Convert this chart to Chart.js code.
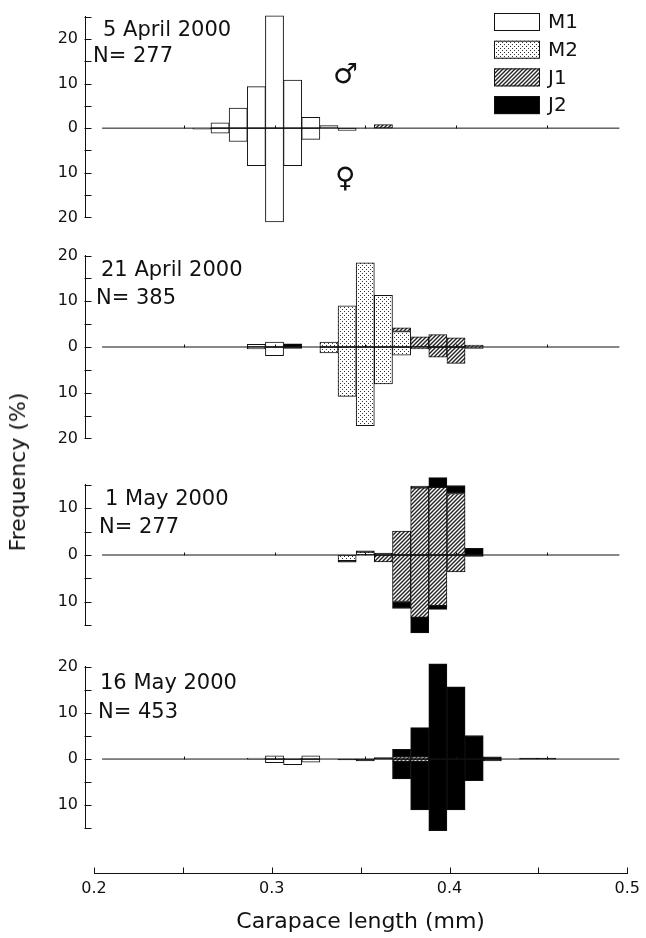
<!DOCTYPE html>
<html>
<head>
<meta charset="utf-8">
<script src="https://cdn.jsdelivr.net/npm/chart.js@4.4.1/dist/chart.umd.min.js"></script>
<style>
html,body{margin:0;padding:0;background:#fff;}
#wrap{position:relative;width:646px;height:938px;overflow:hidden;background:#fff;font-family:'DejaVu Sans',sans-serif;color:#111;}
#wrap canvas{position:absolute;left:0;}
.t{position:absolute;white-space:nowrap;line-height:1;font-size:21px;}
.sym{position:absolute;white-space:nowrap;line-height:1;font-size:28px;font-weight:bold;}
#ylab{position:absolute;left:18px;top:472px;font-size:22px;white-space:nowrap;line-height:1;transform:translate(-50%,-50%) rotate(-90deg);}
</style>
</head>
<body>
<div id="wrap">
  <canvas id="p0" width="646" height="234" style="top:0px"></canvas>
  <canvas id="p1" width="646" height="216" style="top:239px"></canvas>
  <canvas id="p2" width="646" height="174" style="top:468px"></canvas>
  <canvas id="p3" width="646" height="195" style="top:650px"></canvas>
  <canvas id="px" width="646" height="83" style="top:855px"></canvas>
  <div id="ylab">Frequency (%)</div>
</div>
<script>
// ---------------- data ----------------
const bins = [0.26,0.27,0.28,0.29,0.30,0.31,0.32,0.33,0.34,0.35,0.36,0.37,0.38,0.39,0.40,0.41,0.42,0.43,0.44,0.45];
const categories = ['M1','M2','J1','J2'];
const dates = ['5 April 2000','21 April 2000','1 May 2000','16 May 2000'];
const sampleSizes = [277,385,277,453];
const yMin = [-20,-20,-15,-15];
const yMax = [25,20,15,20];
const yStep = 5;
const xTickValues = [0.2,0.25,0.3,0.35,0.4,0.45,0.5];
const xTickLabels = ['0.2','','0.3','','0.4','','0.5'];
const baselineTicks = [0.25,0.3,0.35,0.4,0.45];
const baselineRange = [0.205,0.49];
const xTitle = 'Carapace length (mm)';
const maleSymbol = '\u2642', femaleSymbol = '\u2640';

// 5 April 2000 (male up, female down; %)
const apr5_M1_male   = [0,1.2,4.5,9.3,25.2,10.8,2.4,0.6,0,0,0,0,0,0,0,0,0,0,0,0];
const apr5_M1_female = [0.2,1.1,3.0,8.4,21.0,8.4,2.5,0,0.5,0,0,0,0,0,0,0,0,0,0,0];
const apr5_M2_male   = [0,0,0,0,0,0,0,0,0,0,0,0,0,0,0,0,0,0,0,0];
const apr5_M2_female = [0,0,0,0,0,0,0,0,0,0,0,0,0,0,0,0,0,0,0,0];
const apr5_J1_male   = [0,0,0,0,0,0,0,0,0,0,0.8,0,0,0,0,0,0,0,0,0];
const apr5_J1_female = [0,0,0,0,0,0,0,0,0,0,0,0,0,0,0,0,0,0,0,0];
const apr5_J2_male   = [0,0,0,0,0,0,0,0,0,0,0,0,0,0,0,0,0,0,0,0];
const apr5_J2_female = [0,0,0,0,0,0,0,0,0,0,0,0,0,0,0,0,0,0,0,0];

// 21 April 2000
const apr21_M1_male   = [0,0,0,0.6,1.1,0,0,0,0,0,0,0,0,0,0,0,0,0,0,0];
const apr21_M1_female = [0,0,0,0.4,1.9,0,0,0,0,0,0,0,0,0,0,0,0,0,0,0];
const apr21_M2_male   = [0,0,0,0,0,0,0,1.1,9.0,18.4,11.3,3.4,0,0,0,0,0,0,0,0];
const apr21_M2_female = [0,0,0,0,0,0,0,1.3,10.8,17.2,8.1,1.8,0,0,0,0,0,0,0,0];
const apr21_J1_male   = [0,0,0,0,0,0,0,0,0,0,0,0.8,2.2,2.7,2.0,0.4,0,0,0,0];
const apr21_J1_female = [0,0,0,0,0,0,0,0,0,0,0,0,0.4,2.2,3.6,0.3,0,0,0,0];
const apr21_J2_male   = [0,0,0,0,0,0.7,0,0,0,0,0,0,0,0,0,0,0,0,0,0];
const apr21_J2_female = [0,0,0,0,0,0.3,0,0,0,0,0,0,0,0,0,0,0,0,0,0];

// 1 May 2000
const may1_M1_male   = [0,0,0,0,0,0,0,0,0,0,0,0,0,0,0,0,0,0,0,0];
const may1_M1_female = [0,0,0,0,0,0,0,0,0,0,0,0,0,0,0,0,0,0,0,0];
const may1_M2_male   = [0,0,0,0,0,0,0,0,0,0.6,0,0,0,0,0,0,0,0,0,0];
const may1_M2_female = [0,0,0,0,0,0,0,0,1.2,0,0,0,0,0,0,0,0,0,0,0];
const may1_J1_male   = [0,0,0,0,0,0,0,0,0,0,0,5.1,14.3,14.4,13.1,0,0,0,0,0];
const may1_J1_female = [0,0,0,0,0,0,0,0,0,0,1.5,9.9,13.3,10.8,3.6,0,0,0,0,0];
const may1_J2_male   = [0,0,0,0,0,0,0,0,0,0.3,0.4,0,0.4,2.1,1.7,1.4,0,0,0,0];
const may1_J2_female = [0,0,0,0,0,0,0,0,0.35,0,0,1.5,3.3,0.8,0,0.3,0,0,0,0];

// 16 May 2000
const may16_M1_male   = [0,0,0,0.2,0.7,0.15,0.7,0,0,0,0,0,0,0,0,0,0,0,0,0];
const may16_M1_female = [0,0,0,0,0.8,1.2,0.7,0,0,0,0,0,0,0,0,0,0,0,0,0];
const may16_M2_male   = [0,0,0,0,0,0,0,0,0,0,0,0,0,0,0,0,0,0,0,0];
const may16_M2_female = [0,0,0,0,0,0,0,0,0,0,0,0,0,0,0,0,0,0,0,0];
const may16_J1_male   = [0,0,0,0,0,0,0,0,0,0,0,0.5,0.5,0,0,0,0,0,0,0];
const may16_J1_female = [0,0,0,0,0,0,0,0,0,0,0,0.5,0.5,0,0,0,0,0,0,0];
const may16_J2_male   = [0,0,0,0,0,0,0,0,0,0,0.3,1.6,6.3,20.6,15.6,5.1,0.5,0,0.2,0.2];
const may16_J2_female = [0,0,0,0,0,0,0,0,0.2,0.4,0,3.8,10.5,15.5,11.0,4.7,0.4,0,0,0];

// ---------------- styling ----------------
const FONT = "'DejaVu Sans', sans-serif";
const INK = '#111';

function makePattern(kind){
  const c = document.createElement('canvas');
  c.width = 4; c.height = 4;
  const g = c.getContext('2d');
  g.fillStyle = '#fff'; g.fillRect(0,0,4,4);
  if (kind === 'dots'){
    g.fillStyle = '#333';
    g.fillRect(0,0,1,1); g.fillRect(2,2,1,1);
  } else if (kind === 'hatch'){
    g.strokeStyle = '#222'; g.lineWidth = 1.4;
    g.beginPath();
    g.moveTo(-1,5); g.lineTo(5,-1);
    g.moveTo(-1,1); g.lineTo(1,-1);
    g.moveTo(3,5); g.lineTo(5,3);
    g.stroke();
  }
  return document.createElement('canvas').getContext('2d').createPattern(c,'repeat');
}
const fills = ['#ffffff', makePattern('dots'), makePattern('hatch'), '#000000'];

const panelMale = [
  [apr5_M1_male, apr5_M2_male, apr5_J1_male, apr5_J2_male],
  [apr21_M1_male, apr21_M2_male, apr21_J1_male, apr21_J2_male],
  [may1_M1_male, may1_M2_male, may1_J1_male, may1_J2_male],
  [may16_M1_male, may16_M2_male, may16_J1_male, may16_J2_male]
];
const panelFemale = [
  [apr5_M1_female, apr5_M2_female, apr5_J1_female, apr5_J2_female],
  [apr21_M1_female, apr21_M2_female, apr21_J1_female, apr21_J2_female],
  [may1_M1_female, may1_M2_female, may1_J1_female, may1_J2_female],
  [may16_M1_female, may16_M2_female, may16_J1_female, may16_J2_female]
];

const decor = {
  id: 'decor',
  afterDraw(chart, args, opts){
    const ctx = chart.ctx, ys = chart.scales.y, xs = chart.scales.x;
    const left = Math.round(chart.chartArea.left) + 0.5;
    ctx.save();
    ctx.strokeStyle = INK; ctx.lineWidth = 1;
    ys.ticks.forEach(t => {
      const py = Math.round(ys.getPixelForValue(t.value)) + 0.5;
      ctx.beginPath(); ctx.moveTo(left - 1, py); ctx.lineTo(left + 6, py); ctx.stroke();
    });
    const y0 = Math.round(ys.getPixelForValue(0)) + 0.5;
    baselineTicks.forEach(v => {
      const px = Math.round(xs.getPixelForValue(v)) + 0.5;
      ctx.beginPath(); ctx.moveTo(px, y0); ctx.lineTo(px, y0 - 3); ctx.stroke();
    });
    if (opts && opts.legend){
      ctx.font = '20px ' + FONT;
      ctx.textBaseline = 'middle';
      ctx.textAlign = 'left';
      categories.forEach((c, k) => {
        const by = 13 + k * 27.7;
        ctx.fillStyle = fills[k];
        ctx.fillRect(494, by, 46, 18);
        ctx.strokeStyle = INK;
        ctx.strokeRect(494.5, by + 0.5, 45, 17);
        ctx.fillStyle = INK;
        ctx.fillText(c, 548, by + 10);
      });
    }
    ctx.restore();
  }
};

function buildPanel(p){
  const datasets = [];
  categories.forEach((c, k) => {
    datasets.push({
      type: 'bar', label: c + ' male', stack: 's',
      data: bins.map((b, i) => ({x: b, y: panelMale[p][k][i] ? panelMale[p][k][i] : null})),
      backgroundColor: fills[k], borderColor: INK, borderWidth: 1, borderSkipped: false,
      barPercentage: 1, categoryPercentage: 1, order: 1, clip: false
    });
  });
  categories.forEach((c, k) => {
    datasets.push({
      type: 'bar', label: c + ' female', stack: 's',
      data: bins.map((b, i) => ({x: b, y: panelFemale[p][k][i] ? -panelFemale[p][k][i] : null})),
      backgroundColor: fills[k], borderColor: INK, borderWidth: 1, borderSkipped: false,
      barPercentage: 1, categoryPercentage: 1, order: 1, clip: false
    });
  });
  datasets.push({
    type: 'line', label: 'baseline',
    data: baselineRange.map(x => ({x: x, y: 0})),
    borderColor: INK, borderWidth: 1, pointRadius: 0, order: 0, clip: false
  });
  new Chart(document.getElementById('p' + p), {
    type: 'bar',
    data: {datasets},
    options: {
      responsive: false, animation: false, devicePixelRatio: 1,
      layout: {padding: {top: 13, bottom: 12, left: 0, right: 15}},
      plugins: {legend: {display: false}, tooltip: {enabled: false}, decor: {legend: p === 0}},
      scales: {
        x: {type: 'linear', min: 0.1956, max: 0.4964, display: false, stacked: true, offset: false},
        y: {
          type: 'linear', min: yMin[p], max: yMax[p], stacked: true,
          grid: {display: false, drawTicks: false},
          border: {display: true, color: INK, width: 1},
          ticks: {stepSize: yStep, autoSkip: false, padding: 7, color: INK,
                  font: {family: FONT, size: 16},
                  callback: v => (Math.round(v) % 10 === 0 ? String(Math.abs(Math.round(v))) : '')},
          afterFit: s => { s.width = 85; }
        }
      }
    },
    plugins: [decor]
  });
}
[0,1,2,3].forEach(buildPanel);

// bottom shared axis
const axisTicks = {
  id: 'axisTicks',
  afterDraw(chart){
    const ctx = chart.ctx, xs = chart.scales.x;
    const yb = Math.round(chart.chartArea.bottom) + 0.5;
    ctx.save(); ctx.strokeStyle = INK; ctx.lineWidth = 1;
    xTickValues.forEach(v => {
      const px = Math.round(xs.getPixelForValue(v)) + 0.5;
      ctx.beginPath(); ctx.moveTo(px, yb); ctx.lineTo(px, yb - 6); ctx.stroke();
    });
    ctx.restore();
  }
};
new Chart(document.getElementById('px'), {
  type: 'scatter',
  data: {datasets: []},
  options: {
    responsive: false, animation: false, devicePixelRatio: 1,
    layout: {padding: {top: 2, left: 94, right: 15, bottom: 0}},
    plugins: {legend: {display: false}, tooltip: {enabled: false}},
    scales: {
      x: {
        type: 'linear', min: 0.2, max: 0.5,
        grid: {display: false, drawTicks: false},
        border: {display: true, color: INK, width: 1},
        ticks: {stepSize: 0.05, autoSkip: false, maxRotation: 0, padding: 6, color: INK,
                font: {family: FONT, size: 16},
                callback: v => { const i = xTickValues.findIndex(t => Math.abs(t - v) < 1e-6); return i >= 0 ? xTickLabels[i] : ''; }},
        title: {display: true, text: xTitle, color: INK, font: {family: FONT, size: 22}, padding: {top: 4, bottom: 3}},
        afterFit: s => { s.height = 65; }
      },
      y: {display: false, min: 0, max: 1}
    }
  },
  plugins: [axisTicks]
});

// panel annotations
const wrap = document.getElementById('wrap');
const datePos = [[103,29],[101,269],[105,498],[100,682]];
const nPos = [[93,55],[96,297],[99,526],[98,711]];
function addText(txt, x, cy, cls){
  const d = document.createElement('div');
  d.className = cls; d.textContent = txt;
  d.style.left = x + 'px'; d.style.top = (cy - 10) + 'px';
  wrap.appendChild(d);
}
dates.forEach((t, i) => addText(t, datePos[i][0], datePos[i][1], 't'));
sampleSizes.forEach((n, i) => addText('N= ' + n, nPos[i][0], nPos[i][1], 't'));
const m = document.createElement('div'); m.className = 'sym'; m.textContent = maleSymbol;
m.style.left = '333px'; m.style.top = '60px'; wrap.appendChild(m);
const f = document.createElement('div'); f.className = 'sym'; f.textContent = femaleSymbol;
f.style.left = '335px'; f.style.top = '164px'; wrap.appendChild(f);
</script>
</body>
</html>
